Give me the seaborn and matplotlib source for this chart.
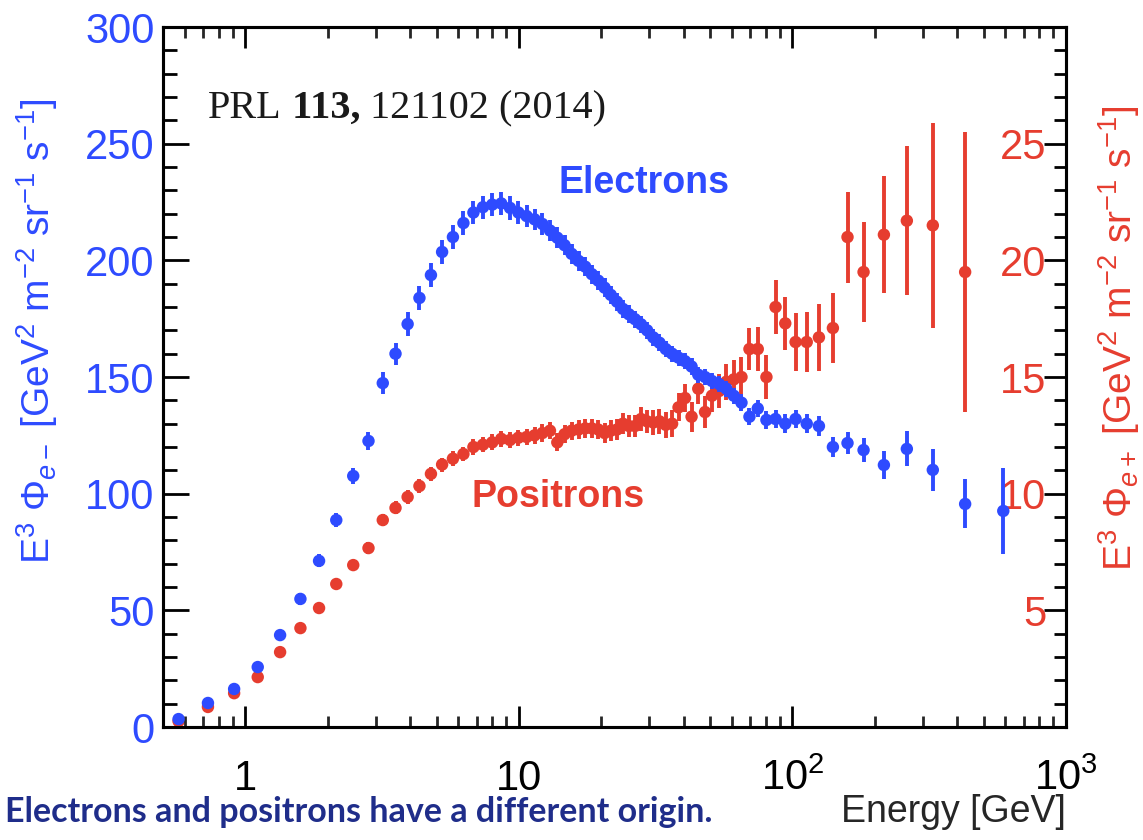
import numpy as np
import pandas as pd
import matplotlib
matplotlib.use("Agg")
import matplotlib.pyplot as plt
import seaborn as sns
from matplotlib.ticker import FixedLocator, MultipleLocator, LogLocator, NullFormatter

# AMS-02 electron / positron fluxes (E^3 x flux)
energy = [0.57, 0.73, 0.91, 1.11, 1.34, 1.59, 1.86, 2.15, 2.48, 2.82, 3.18, 3.54,
          3.92, 4.33, 4.77, 5.24, 5.74, 6.27, 6.82, 7.39, 7.99, 8.62, 9.28, 9.96,
          10.67, 11.41, 12.19, 12.99, 13.82, 14.69, 15.59, 16.52, 17.48, 18.48, 19.51, 20.58,
          21.68, 22.83, 24.01, 25.25, 26.57, 27.96, 29.44, 31.0, 32.66, 34.43, 36.32, 38.34,
          40.49, 42.79, 45.27, 47.93, 50.81, 53.93, 57.33, 61.04, 65.13, 69.65, 74.69, 80.35,
          86.77, 94.15, 102.7, 112.8, 125.0, 140.6, 159.0, 182.0, 216.0, 262.0, 326.0, 428.0,
          590.0]

electron_flux = [3.4, 10.3, 16.3, 25.7, 39.4, 54.9, 71.2, 88.7, 107.6, 122.6, 147.4, 160.0,
                 172.7, 183.9, 193.7, 203.6, 210.0, 216.0, 220.5, 222.8, 223.9, 224.4, 222.5, 220.5,
                 219.0, 217.6, 215.6, 212.8, 209.7, 206.5, 202.8, 199.8, 197.3, 194.1, 191.3, 188.3,
                 185.2, 182.3, 179.2, 176.9, 174.8, 172.6, 170.0, 167.0, 164.7, 162.0, 160.0, 158.3,
                 156.8, 154.5, 151.0, 150.0, 148.3, 147.0, 145.0, 142.0, 139.0, 133.0, 136.5, 131.6,
                 132.0, 130.0, 132.0, 130.0, 129.0, 120.0, 121.7, 118.7, 112.3, 119.2, 110.2, 95.6,
                 92.6]

electron_err = [1.0, 1.2, 1.4, 1.6, 2.0, 2.4, 2.8, 3.0, 3.6, 4.0, 4.6, 4.8,
                5.0, 5.0, 5.0, 5.0, 5.0, 5.0, 5.0, 5.0, 5.0, 5.0, 5.0, 4.8,
                4.8, 4.6, 4.6, 4.5, 4.4, 4.4, 4.3, 4.2, 4.2, 4.1, 4.0, 4.0,
                3.9, 3.8, 3.8, 3.8, 3.7, 3.7, 3.6, 3.6, 3.6, 3.5, 3.5, 3.5,
                3.5, 3.5, 3.5, 3.5, 3.5, 3.5, 3.5, 3.5, 3.6, 3.6, 3.7, 3.8,
                3.9, 4.0, 4.0, 4.0, 4.2, 4.4, 4.6, 5.2, 6.0, 7.5, 9.0, 10.5,
                18.5]

# positrons stop one bin earlier (last bin 428 GeV)
positron_flux = [0.25, 0.86, 1.45, 2.14, 3.21, 4.24, 5.10, 6.13, 6.94, 7.67, 8.87, 9.39,
                 9.86, 10.33, 10.85, 11.25, 11.5, 11.7, 12.0, 12.1, 12.2, 12.35, 12.3, 12.4,
                 12.43, 12.5, 12.6, 12.7, 12.2, 12.55, 12.7, 12.75, 12.8, 12.8, 12.75, 12.6,
                 12.7, 12.75, 13.0, 12.9, 12.9, 13.2, 13.1, 13.05, 13.1, 12.95, 13.0, 13.7,
                 14.1, 13.3, 14.5, 13.5, 14.2, 14.4, 14.8, 14.9, 15.0, 16.2, 16.2, 15.0,
                 18.0, 17.3, 16.5, 16.5, 16.7, 17.1, 21.0, 19.5, 21.1, 21.7, 21.5, 19.5]

positron_err = [0.05, 0.08, 0.1, 0.12, 0.14, 0.16, 0.18, 0.2, 0.22, 0.24, 0.26, 0.28,
                0.3, 0.3, 0.3, 0.3, 0.32, 0.32, 0.33, 0.33, 0.34, 0.34, 0.35, 0.35,
                0.36, 0.36, 0.37, 0.37, 0.38, 0.38, 0.39, 0.4, 0.4, 0.41, 0.42, 0.43,
                0.44, 0.45, 0.46, 0.47, 0.48, 0.5, 0.5, 0.52, 0.54, 0.56, 0.58, 0.6,
                0.62, 0.64, 0.66, 0.68, 0.7, 0.74, 0.78, 0.82, 0.85, 0.9, 0.95, 0.95,
                1.15, 1.15, 1.25, 1.3, 1.45, 1.5, 1.95, 2.15, 2.5, 3.2, 4.4, 6.0]

x_ticks = [1, 10, 100, 1000]
x_ticklabels = ['1', '10', '$10^2$', '$10^3$']
left_ticks = [0, 50, 100, 150, 200, 250, 300]
right_ticks = [5, 10, 15, 20, 25]

BLUE = '#2e4bff'
RED = '#e63d2f'
NAVY = '#1f2d8a'

sns.set_style("ticks")
plt.rcParams['font.family'] = ['Liberation Sans', 'DejaVu Sans']
plt.rcParams['mathtext.fontset'] = 'custom'
plt.rcParams['mathtext.rm'] = 'Liberation Sans'
plt.rcParams['mathtext.it'] = 'Liberation Sans:italic'
plt.rcParams['mathtext.bf'] = 'Liberation Sans:bold'

ele = pd.DataFrame({'energy': energy, 'flux': electron_flux, 'err': electron_err})
pos = pd.DataFrame({'energy': energy[:len(positron_flux)], 'flux': positron_flux,
                    'err': positron_err})

fig = plt.figure(figsize=(11.43, 8.4), dpi=100)
ax = fig.add_axes([0.1426, 0.1345, 0.790, 0.8333])
ax.set_xscale('log')
ax2 = ax.twinx()

# positrons on the right axis
ax2.errorbar(pos['energy'], pos['flux'], yerr=pos['err'], fmt='none',
             ecolor=RED, elinewidth=2.8, capsize=0, zorder=2)
sns.scatterplot(data=pos, x='energy', y='flux', ax=ax2, color=RED, s=80,
                edgecolor='none', linewidth=0, zorder=3)

# electrons on the left axis, drawn on top
ax.errorbar(ele['energy'], ele['flux'], yerr=ele['err'], fmt='none',
            ecolor=BLUE, elinewidth=2.8, capsize=0, zorder=2)
sns.scatterplot(data=ele, x='energy', y='flux', ax=ax, color=BLUE, s=80,
                edgecolor='none', linewidth=0, zorder=3)
ax.set_zorder(ax2.get_zorder() + 1)
ax.patch.set_visible(False)

ax.set_xlim(0.5, 1000)
ax.set_ylim(0, 300)
ax2.set_ylim(0, 30)

# x axis
ax.xaxis.set_major_locator(FixedLocator(x_ticks))
ax.set_xticklabels(x_ticklabels)
ax.xaxis.set_minor_locator(LogLocator(base=10, subs=np.arange(2, 10), numticks=30))
ax.xaxis.set_minor_formatter(NullFormatter())
ax.tick_params(axis='x', which='major', direction='in', length=15, width=2,
               top=True, bottom=True, labelsize=30, pad=45, colors='black')
ax.tick_params(axis='x', which='minor', direction='in', length=8, width=2,
               top=True, bottom=True)
plt.setp(ax.get_xticklabels(), va='baseline')

# left y axis
ax.yaxis.set_major_locator(FixedLocator(left_ticks))
ax.yaxis.set_minor_locator(MultipleLocator(10))
ax.tick_params(axis='y', which='major', direction='in', length=19, width=2,
               labelsize=30, labelcolor=BLUE, pad=6, color='black')
ax.tick_params(axis='y', which='minor', direction='in', length=10, width=2, color='black')

# right y axis, labels sit inside the frame
ax2.yaxis.set_major_locator(FixedLocator(right_ticks))
ax2.yaxis.set_minor_locator(MultipleLocator(1))
ax2.tick_params(axis='y', which='major', direction='in', length=16, width=2,
                labelsize=30, labelcolor=RED, pad=-14, color='black')
ax2.tick_params(axis='y', which='minor', direction='in', length=9, width=2, color='black')
plt.setp(ax2.get_yticklabels(), ha='right')

for a in (ax, ax2):
    for sp in a.spines.values():
        sp.set_linewidth(2.2)
        sp.set_color('black')

ax.set_ylabel("E$^3$ Φ$_{e-}$ [GeV$^2$ m$^{-2}$ sr$^{-1}$ s$^{-1}$]", color=BLUE, fontsize=28)
ax.yaxis.set_label_coords(-0.114, 0.565)
ax2.set_ylabel("E$^3$ Φ$_{e+}$ [GeV$^2$ m$^{-2}$ sr$^{-1}$ s$^{-1}$]", color=RED, fontsize=28)
ax2.yaxis.set_label_coords(1.034, 0.556)
ax.set_xlabel("Energy [GeV]", fontsize=27, ha='right')
ax.xaxis.set_label_coords(1.0, -0.096)

ax.text(0.4385, 0.763, "Electrons", transform=ax.transAxes, color=BLUE,
        fontsize=27, weight='bold', va='baseline')
ax.text(0.342, 0.314, "Positrons", transform=ax.transAxes, color=RED,
        fontsize=27, weight='bold', va='baseline')

t1 = ax.text(0.0498, 0.870, "PRL", transform=ax.transAxes, fontsize=29,
             family='Liberation Serif', color='#1a1a1a', va='baseline')
t2 = ax.annotate(" 113,", xy=(1, 0), xycoords=t1, fontsize=29, family='Liberation Serif',
                 weight='bold', color='#1a1a1a', va='bottom')
ax.annotate(" 121102 (2014)", xy=(1, 0), xycoords=t2, fontsize=29,
            family='Liberation Serif', color='#1a1a1a', va='bottom')

fig.text(0.004, 0.022, "Electrons and positrons have a different origin.", color=NAVY,
         fontsize=24.5, family=['Lato', 'DejaVu Sans'], weight='bold', va='baseline')

fig.savefig('out.png', dpi=100)
